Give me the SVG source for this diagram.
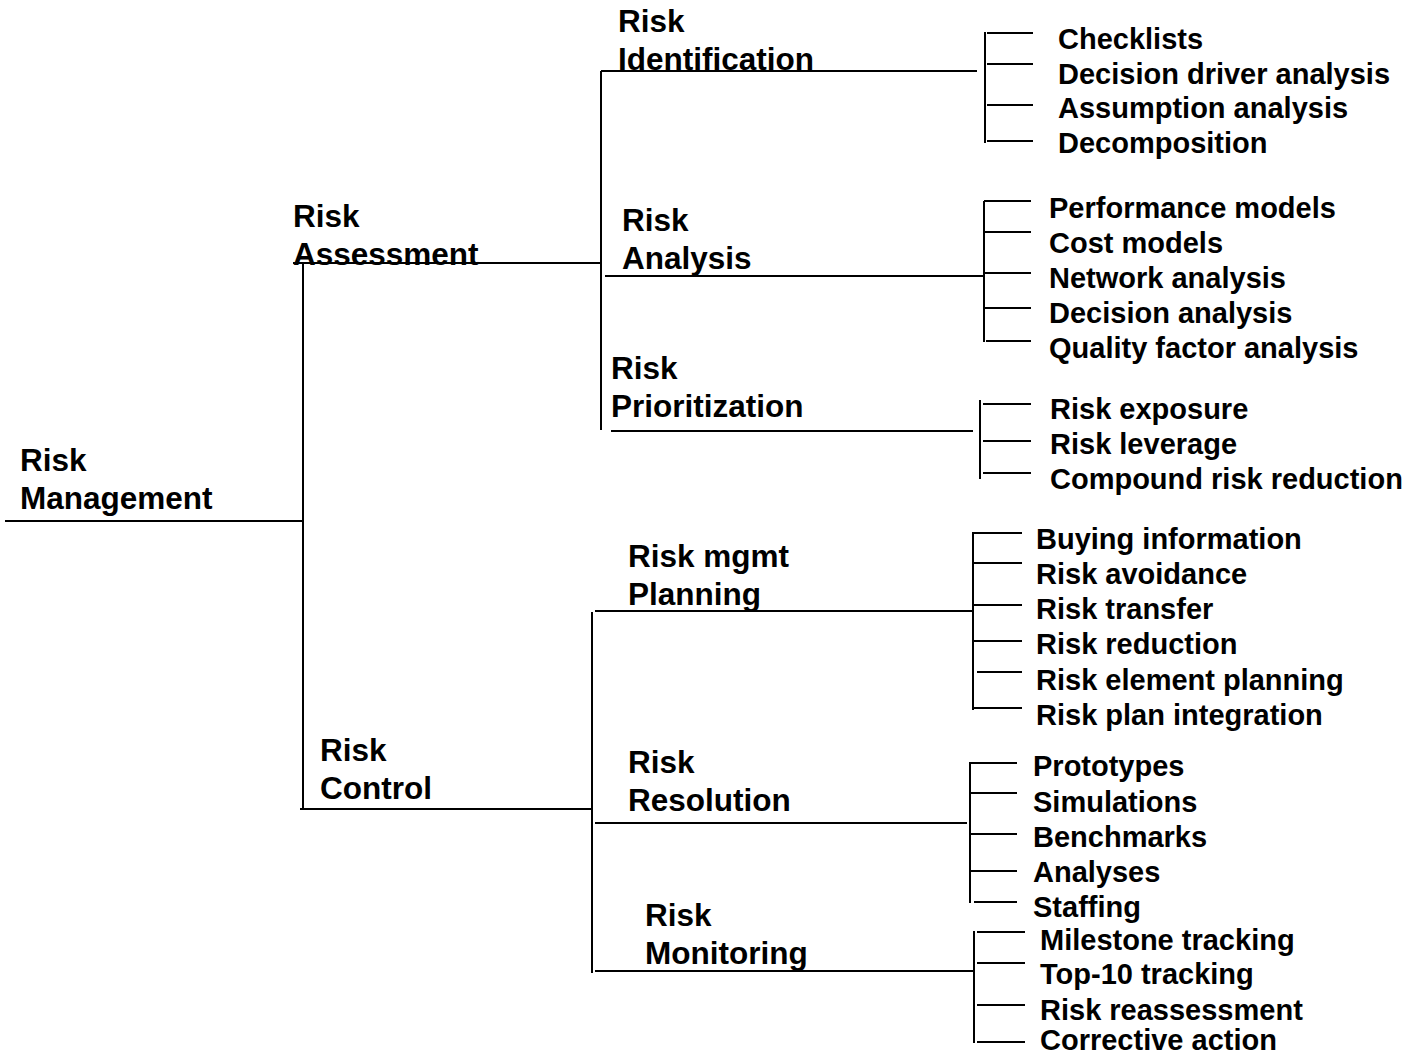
<svg xmlns="http://www.w3.org/2000/svg" width="1410" height="1057" viewBox="0 0 1410 1057">
<style>
.lb{font-family:"Liberation Sans",Arial,sans-serif;font-weight:bold;font-size:31.5px;fill:#000}
.lf{font-family:"Liberation Sans",Arial,sans-serif;font-weight:bold;font-size:29px;fill:#000}
.c line{stroke:#000;stroke-width:2}
</style>
<rect width="1410" height="1057" fill="#fff"/>
<g class="c" id="connectors">
<line x1="5" y1="521" x2="303" y2="521"/>
<line x1="303" y1="263" x2="303" y2="809"/>
<line x1="293" y1="263" x2="601" y2="263"/>
<line x1="601" y1="71" x2="601" y2="430"/>
<line x1="601" y1="71" x2="977" y2="71"/>
<line x1="985" y1="32" x2="985" y2="143"/>
<line x1="987" y1="33" x2="1033" y2="33"/>
<line x1="987" y1="64" x2="1033" y2="64"/>
<line x1="987" y1="105" x2="1033" y2="105"/>
<line x1="987" y1="141" x2="1033" y2="141"/>
<line x1="605" y1="276" x2="984" y2="276"/>
<line x1="984" y1="201" x2="984" y2="342"/>
<line x1="984" y1="201" x2="1031" y2="201"/>
<line x1="984" y1="232" x2="1031" y2="232"/>
<line x1="984" y1="273" x2="1031" y2="273"/>
<line x1="984" y1="308" x2="1031" y2="308"/>
<line x1="986" y1="341" x2="1031" y2="341"/>
<line x1="611" y1="431" x2="973" y2="431"/>
<line x1="980" y1="400" x2="980" y2="479"/>
<line x1="983" y1="404" x2="1031" y2="404"/>
<line x1="983" y1="441" x2="1031" y2="441"/>
<line x1="983" y1="473" x2="1031" y2="473"/>
<line x1="300" y1="809" x2="593" y2="809"/>
<line x1="592" y1="612" x2="592" y2="973"/>
<line x1="595" y1="611" x2="973" y2="611"/>
<line x1="973" y1="532" x2="973" y2="710"/>
<line x1="973" y1="533" x2="1022" y2="533"/>
<line x1="973" y1="563" x2="1022" y2="563"/>
<line x1="973" y1="605" x2="1022" y2="605"/>
<line x1="973" y1="641" x2="1022" y2="641"/>
<line x1="977" y1="672" x2="1022" y2="672"/>
<line x1="973" y1="708" x2="1022" y2="708"/>
<line x1="595" y1="823" x2="967" y2="823"/>
<line x1="970" y1="762" x2="970" y2="903"/>
<line x1="970" y1="763" x2="1017" y2="763"/>
<line x1="970" y1="793" x2="1017" y2="793"/>
<line x1="970" y1="834" x2="1017" y2="834"/>
<line x1="970" y1="871" x2="1017" y2="871"/>
<line x1="974" y1="902" x2="1017" y2="902"/>
<line x1="595" y1="971" x2="973" y2="971"/>
<line x1="974" y1="931" x2="974" y2="1043"/>
<line x1="977" y1="932" x2="1025" y2="932"/>
<line x1="977" y1="963" x2="1025" y2="963"/>
<line x1="977" y1="1005" x2="1025" y2="1005"/>
<line x1="977" y1="1042" x2="1025" y2="1042"/>
</g>
<g id="risk-management"><text class="lb" x="20" y="471">Risk</text><text class="lb" x="20" y="509">Management</text></g>
<g id="risk-assessment"><text class="lb" x="293" y="227">Risk</text><text class="lb" x="293" y="265">Assessment</text></g>
<g id="risk-control"><text class="lb" x="320" y="761">Risk</text><text class="lb" x="320" y="799">Control</text></g>
<g id="risk-identification"><text class="lb" x="618" y="32">Risk</text><text class="lb" x="618" y="70">Identification</text></g>
<g id="risk-analysis"><text class="lb" x="622" y="231">Risk</text><text class="lb" x="622" y="269">Analysis</text></g>
<g id="risk-prioritization"><text class="lb" x="611" y="379">Risk</text><text class="lb" x="611" y="417">Prioritization</text></g>
<g id="risk-planning"><text class="lb" x="628" y="567">Risk mgmt</text><text class="lb" x="628" y="605">Planning</text></g>
<g id="risk-resolution"><text class="lb" x="628" y="773">Risk</text><text class="lb" x="628" y="811">Resolution</text></g>
<g id="risk-monitoring"><text class="lb" x="645" y="926">Risk</text><text class="lb" x="645" y="964">Monitoring</text></g>
<g id="identification-items">
<text class="lf" x="1058" y="49">Checklists</text>
<text class="lf" x="1058" y="84">Decision driver analysis</text>
<text class="lf" x="1058" y="118">Assumption analysis</text>
<text class="lf" x="1058" y="153">Decomposition</text>
</g>
<g id="analysis-items">
<text class="lf" x="1049" y="218">Performance models</text>
<text class="lf" x="1049" y="253">Cost models</text>
<text class="lf" x="1049" y="288">Network analysis</text>
<text class="lf" x="1049" y="323">Decision analysis</text>
<text class="lf" x="1049" y="358">Quality factor analysis</text>
</g>
<g id="prioritization-items">
<text class="lf" x="1050" y="419">Risk exposure</text>
<text class="lf" x="1050" y="454">Risk leverage</text>
<text class="lf" x="1050" y="489">Compound risk reduction</text>
</g>
<g id="planning-items">
<text class="lf" x="1036" y="549">Buying information</text>
<text class="lf" x="1036" y="584">Risk avoidance</text>
<text class="lf" x="1036" y="619">Risk transfer</text>
<text class="lf" x="1036" y="654">Risk reduction</text>
<text class="lf" x="1036" y="690">Risk element planning</text>
<text class="lf" x="1036" y="725">Risk plan integration</text>
</g>
<g id="resolution-items">
<text class="lf" x="1033" y="776">Prototypes</text>
<text class="lf" x="1033" y="812">Simulations</text>
<text class="lf" x="1033" y="847">Benchmarks</text>
<text class="lf" x="1033" y="882">Analyses</text>
<text class="lf" x="1033" y="917">Staffing</text>
</g>
<g id="monitoring-items">
<text class="lf" x="1040" y="950">Milestone tracking</text>
<text class="lf" x="1040" y="984">Top-10 tracking</text>
<text class="lf" x="1040" y="1020">Risk reassessment</text>
<text class="lf" x="1040" y="1050">Corrective action</text>
</g>
</svg>
